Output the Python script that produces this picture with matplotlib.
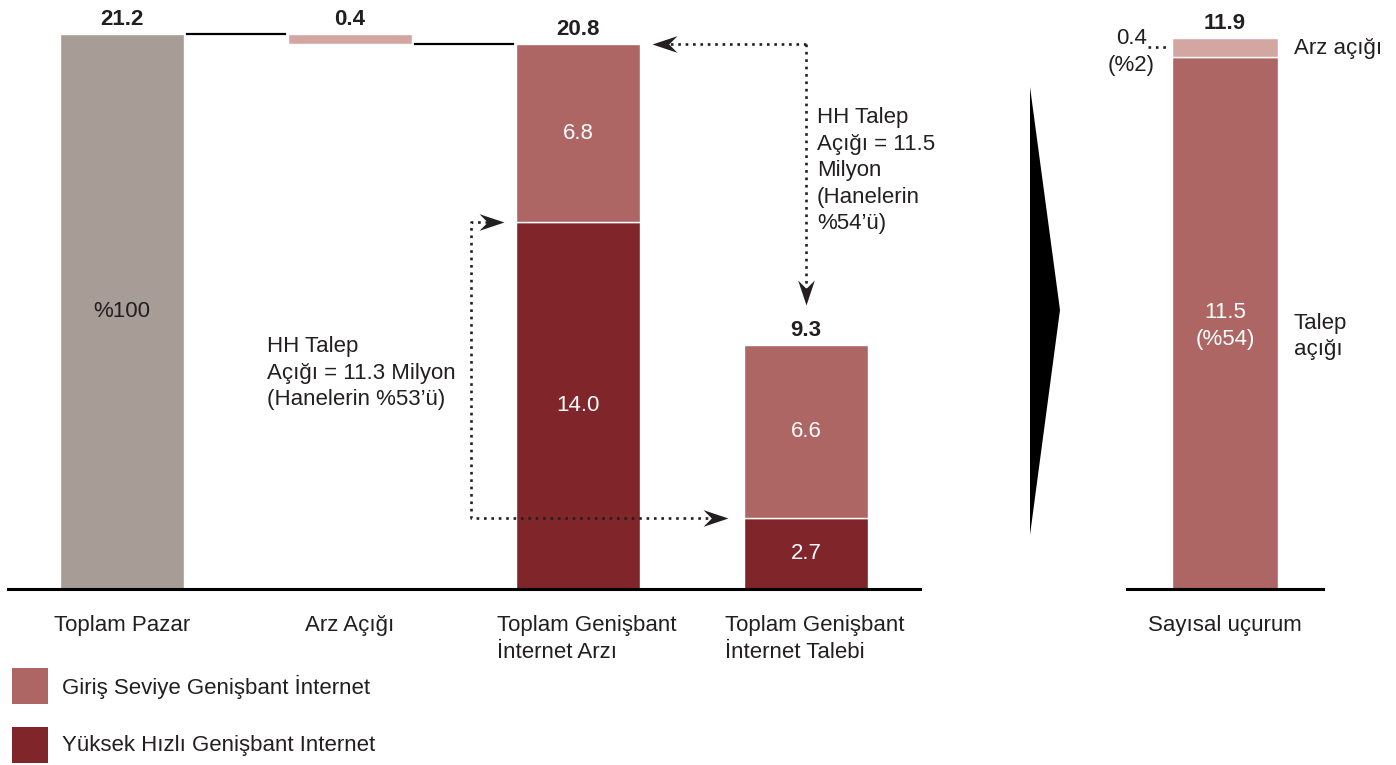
import matplotlib
matplotlib.use("Agg")
import matplotlib.pyplot as plt
from matplotlib.path import Path
from matplotlib.patches import Polygon, Rectangle
from matplotlib.transforms import blended_transform_factory, offset_copy

plt.rcParams['font.family'] = ['Liberation Sans', 'DejaVu Sans']

# ---------------- data ----------------
categories = ["Toplam Pazar", "Arz Açığı",
              "Toplam Genişbant\nİnternet Arzı",
              "Toplam Genişbant\nİnternet Talebi"]
market_total = 21.2
supply_gap = 0.4
market_label = "%100"
high_speed = [14.0, 2.7]        # supply, demand
entry_level = [6.8, 6.6]        # supply, demand
gap_category = "Sayısal uçurum"
demand_gap = 11.5
demand_gap_pct = "%54"
supply_gap_pct = "%2"
gap_segment_labels = ["Talep\naçığı", "Arz açığı"]
legend_labels = ["Giriş Seviye Genişbant İnternet",
                 "Yüksek Hızlı Genişbant Internet"]
hh_supply_text = "HH Talep\nAçığı = 11.3 Milyon\n(Hanelerin %53’ü)"
hh_demand_text = "HH Talep\nAçığı = 11.5\nMilyon\n(Hanelerin\n%54’ü)"

# ---------------- style ----------------
W, H = 1396, 765
TXT = '#231F20'
C_GRAY = '#A89C97'
C_LIGHT = '#D4A6A1'
C_MID = '#AD6663'
C_DARK = '#80252A'
FS = 16
LS = 1.35

fig = plt.figure(figsize=(W / 100, H / 100), dpi=100)


def fx(px):
    return px / W


def fy(py):
    return 1 - py / H


def head_marker(direction):
    L, hw, notch = 18, 6, 12
    base = [(0, 0), (-L, hw), (-notch, 0), (-L, -hw), (0, 0)]
    if direction == 'right':
        v = base
    elif direction == 'left':
        v = [(-a, b) for a, b in base]
    else:  # down
        v = [(b, -a) for a, b in base]
    codes = [Path.MOVETO, Path.LINETO, Path.LINETO, Path.LINETO, Path.CLOSEPOLY]
    return Path(v, codes)


DOT = dict(color=TXT, lw=1.9, linestyle=(0, (1, 1.8)), solid_capstyle='butt')
HEAD_MS = 36

# ---------------- left panel ----------------
ax = fig.add_axes([fx(8), fy(589), fx(920) - fx(8), fy(5) - fy(589)])
ax.set_xlim(-0.5, 3.5)
ax.set_ylim(0, 584 / 26.2)
for s in ['top', 'right', 'left']:
    ax.spines[s].set_visible(False)
ax.spines['bottom'].set_linewidth(2.2)
ax.spines['bottom'].set_color('black')
ax.set_xticks([])
ax.set_yticks([])

bw = 0.548
supply_total = high_speed[0] + entry_level[0]
demand_total = high_speed[1] + entry_level[1]

ax.bar(0, market_total, bw, color=C_GRAY, edgecolor='white', lw=1)
ax.bar(1, supply_gap, bw, bottom=market_total - supply_gap, color=C_LIGHT,
       edgecolor='white', lw=1)
ax.bar([2, 3], high_speed, bw, color=C_DARK, edgecolor='white', lw=1)
ax.bar([2, 3], entry_level, bw, bottom=high_speed, color=C_MID,
       edgecolor='white', lw=1)

# connectors
ax.plot([bw / 2 + 0.01, 1 - bw / 2 - 0.01], [market_total] * 2, color='black', lw=1.6)
ax.plot([1 + bw / 2 + 0.01, 2 - bw / 2 - 0.01], [market_total - supply_gap] * 2,
        color='black', lw=1.6)

# totals
totals = [(0, market_total, market_total), (1, market_total, supply_gap),
          (2, supply_total, supply_total), (3, demand_total, demand_total)]
for xi, ytop, val in totals:
    ax.annotate(f"{val:.1f}", (xi, ytop), xytext=(0, 6.5), textcoords='offset points',
                ha='center', va='baseline', fontsize=FS, fontweight='bold', color=TXT)

# inner labels
ax.text(0, market_total / 2, market_label, ha='center', va='center', fontsize=FS, color=TXT)
for xi, hs, es in zip([2, 3], high_speed, entry_level):
    ax.text(xi, hs / 2, f"{hs:.1f}", ha='center', va='center', fontsize=FS, color='white')
    ax.text(xi, hs + es / 2, f"{es:.1f}", ha='center', va='center', fontsize=FS, color='white')

# category labels
tr = blended_transform_factory(ax.transData, fig.transFigure)
for i, c in enumerate(categories):
    shift = 6.5 if '\n' in c else 0
    t = offset_copy(tr, fig=fig, x=shift, y=0, units='points')
    ax.text(i, fy(615), c, transform=t, ha='center', va='top', ma='left',
            fontsize=FS, color=TXT, linespacing=LS)

# dotted arrow: supply total -> demand total
xv = 3.0
y_tip = demand_total + 1.55
x_tip_left = 2 + bw / 2 + 0.05
ax.plot([xv, x_tip_left + 0.04], [supply_total] * 2, **DOT)
ax.plot([xv, xv], [supply_total, y_tip + 0.4], **DOT)
ax.plot([x_tip_left], [supply_total], marker=head_marker('left'), ms=HEAD_MS,
        color=TXT, mew=0, ls='none')
ax.plot([xv], [y_tip], marker=head_marker('down'), ms=HEAD_MS, color=TXT, mew=0, ls='none')

# dotted arrow: supply high-speed -> demand high-speed
xl = 1.53
tip_top = 2 - bw / 2 - 0.05
tip_bot = 3 - bw / 2 - 0.068
ax.plot([tip_top - 0.04, xl, xl, tip_bot - 0.04],
        [high_speed[0], high_speed[0], high_speed[1], high_speed[1]], **DOT)
ax.plot([tip_top], [high_speed[0]], marker=head_marker('right'), ms=HEAD_MS,
        color=TXT, mew=0, ls='none')
ax.plot([tip_bot], [high_speed[1]], marker=head_marker('right'), ms=HEAD_MS,
        color=TXT, mew=0, ls='none')

fig.text(fx(817), fy(107), hh_demand_text, ha='left', va='top', fontsize=FS,
         color=TXT, linespacing=LS)
fig.text(fx(267), fy(336), hh_supply_text, ha='left', va='top', fontsize=FS,
         color=TXT, linespacing=LS)

# ---------------- wedge ----------------
fig.add_artist(Polygon([(fx(1030), fy(87)), (fx(1060), fy(310)), (fx(1030), fy(535))],
                       closed=True, facecolor='black', edgecolor='none',
                       transform=fig.transFigure))

# ---------------- right panel ----------------
ax2 = fig.add_axes([fx(1127), fy(589), fx(1323) - fx(1127), fy(5) - fy(589)])
ax2.set_xlim(-0.925, 0.925)
ax2.set_ylim(0, 584 / 46.3)
for s in ['top', 'right', 'left']:
    ax2.spines[s].set_visible(False)
ax2.spines['bottom'].set_linewidth(2.2)
ax2.spines['bottom'].set_color('black')
ax2.set_xticks([])
ax2.set_yticks([])

ax2.bar(0, demand_gap, 1.0, color=C_MID, edgecolor='white', lw=1)
ax2.bar(0, supply_gap, 1.0, bottom=demand_gap, color=C_LIGHT, edgecolor='white', lw=1)
gap_total = demand_gap + supply_gap
ax2.annotate(f"{gap_total:.1f}", (0, gap_total), xytext=(0, 6.5), textcoords='offset points',
             ha='center', va='baseline', fontsize=FS, fontweight='bold', color=TXT)
ax2.text(0, demand_gap / 2 - 0.07, f"{demand_gap:.1f}\n({demand_gap_pct})", ha='center',
         va='center', fontsize=FS, color='white', linespacing=LS)
ymid = demand_gap + supply_gap / 2
ax2.text(0.65, ymid - 0.03, gap_segment_labels[1], ha='left', va='center',
         fontsize=FS, color=TXT)
ax2.text(0.65, demand_gap / 2 - 0.3, gap_segment_labels[0], ha='left', va='center',
         fontsize=FS, color=TXT, linespacing=LS)
ax2.plot([-0.726, -0.52], [ymid, ymid], **DOT)
ax2.text(-0.885, ymid - 0.1, f"{supply_gap:.1f}\n({supply_gap_pct})", ha='center',
         va='center', fontsize=FS, color=TXT, linespacing=LS)
tr2 = blended_transform_factory(ax2.transData, fig.transFigure)
ax2.text(0, fy(615), gap_category, transform=tr2, ha='center', va='top',
         fontsize=FS, color=TXT)

# ---------------- legend ----------------
legend_colors = [C_MID, C_DARK]
legend_rows_px = [668, 727]
for lab, col, top in zip(legend_labels, legend_colors, legend_rows_px):
    fig.add_artist(Rectangle((fx(12), fy(top + 36)), fx(36), 36 / H,
                             facecolor=col, edgecolor='none',
                             transform=fig.transFigure))
    fig.text(fx(62), fy(top + 19), lab, ha='left', va='center', fontsize=FS, color=TXT)

fig.savefig("out.png", dpi=100)
